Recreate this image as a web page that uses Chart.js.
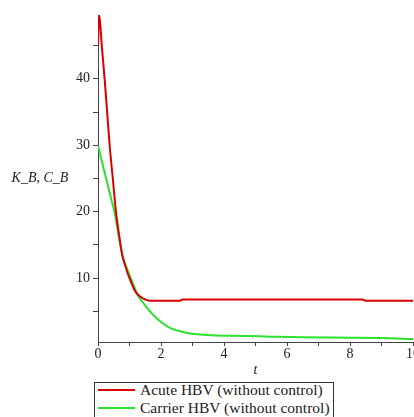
<!DOCTYPE html>
<html>
<head>
<meta charset="utf-8">
<script src="https://cdn.jsdelivr.net/npm/chart.js@4"></script>
<style>
  html, body { margin: 0; padding: 0; background: #fff; overflow: hidden; }
  #wrap { position: relative; width: 414px; height: 417px; overflow: hidden; }
  #myChart { position: absolute; left: 0; top: 0; }
  #legend {
    position: absolute; left: 94px; top: 382px; width: 238px; height: 50px;
    border: 1px solid #333; font: 15.5px "Liberation Serif", serif; color: #222;
  }
  .rows { position: relative; top: -2px; }
  .item { display: flex; align-items: center; height: 18px; white-space: nowrap; }
  .swatch { width: 37px; height: 2px; margin-left: 3px; margin-right: 5px; }
</style>
</head>
<body>
<div id="wrap">
  <canvas id="myChart" width="440" height="377"></canvas>
  <div id="legend"><div class="rows"></div></div>
</div>
<script>
// valores
const tAcute = [0, 0.04, 0.12, 0.21, 0.29, 0.37, 0.47, 0.57, 0.67, 0.77, 0.87, 0.96, 1.07, 1.17, 1.27, 1.38, 1.5, 1.65, 2.6, 2.68, 8.4, 8.5, 10];
const acuteHBV = [45, 49.6, 45, 40, 35, 30, 25, 20, 16.5, 13.5, 11.8, 10.5, 9.2, 8.1, 7.5, 7.1, 6.8, 6.6, 6.6, 6.8, 6.8, 6.6, 6.6];

const tCarrier = [0, 0.1, 0.27, 0.4, 0.53, 0.65, 0.77, 0.9, 1.05, 1.17, 1.27, 1.48, 1.75, 2.0, 2.25, 2.54, 2.8, 3.07, 3.6, 4.66, 5.5, 6.5, 8, 9, 10];
const carrierHBV = [30, 28, 24.8, 22.3, 19.8, 16.5, 13.5, 11.7, 9.9, 8.5, 7.4, 6.0, 4.5, 3.4, 2.6, 2.1, 1.8, 1.6, 1.4, 1.3, 1.2, 1.1, 1.05, 1.0, 0.85];

const xTicks = [0, 1, 2, 3, 4, 5, 6, 7, 8, 9, 10];
const xTickLabels = ["0", "", "2", "", "4", "", "6", "", "8", "", "10"];
const yTicks = [5, 10, 15, 20, 25, 30, 35, 40, 45];
const yTickLabels = ["", "10", "", "20", "", "30", "", "40", ""];

const series = [
  { label: "Acute HBV (without control)", t: tAcute, v: acuteHBV, color: "rgb(215, 0, 0)" },
  { label: "Carrier HBV (without control)", t: tCarrier, v: carrierHBV, color: "rgb(45, 225, 45)" },
];

const axisColor = "#444";
const tickFont = { family: "'Liberation Serif', serif", size: 14 };

const axisTitles = {
  id: "axisTitles",
  afterDraw(chart) {
    const { ctx, chartArea } = chart;
    ctx.save();
    ctx.font = "italic 14px 'Liberation Serif', serif";
    ctx.fillStyle = "#222";
    ctx.textAlign = "center";
    ctx.textBaseline = "middle";
    ctx.fillText("K_B, C_B", 40, (chartArea.top + chartArea.bottom) / 2);
    ctx.fillText("t", (chartArea.left + chartArea.right) / 2, chartArea.bottom + 28);
    ctx.restore();
  },
};

const datasets = series.map(({ label, t, v, color }) => ({
  label,
  data: t.map((x, i) => ({ x, y: v[i] })),
  borderColor: color,
  borderWidth: 2,
  pointRadius: 0,
  cubicInterpolationMode: "monotone",
  fill: false,
}));

new Chart(document.getElementById("myChart"), {
  type: "line",
  data: { datasets },
  options: {
    responsive: false,
    animation: false,
    layout: { padding: { left: 0, right: 27, top: 15, bottom: 0 } },
    plugins: { legend: { display: false }, tooltip: { enabled: false } },
    scales: {
      x: {
        type: "linear",
        min: 0,
        max: 10,
        afterBuildTicks: (s) => { s.ticks = xTicks.map((value) => ({ value })); },
        afterFit: (s) => { s.height = 35; },
        ticks: {
          autoSkip: false,
          maxRotation: 0,
          padding: 0,
          font: tickFont,
          color: "#222",
          callback: (value, index) => xTickLabels[index],
        },
        grid: { drawOnChartArea: false, color: axisColor, tickLength: 4 },
        border: { color: axisColor, width: 1 },
      },
      y: {
        min: 0.4,
        max: 49.6,
        afterBuildTicks: (s) => { s.ticks = yTicks.map((value) => ({ value })); },
        afterFit: (s) => { s.width = 98; },
        ticks: {
          autoSkip: false,
          padding: 3,
          font: tickFont,
          color: "#222",
          callback: (value, index) => yTickLabels[index],
        },
        grid: { drawOnChartArea: false, color: axisColor, tickLength: 5 },
        border: { color: axisColor, width: 1 },
      },
    },
  },
  plugins: [axisTitles],
});

const rows = document.querySelector("#legend .rows");
series.forEach(({ label, color }) => {
  const item = document.createElement("div");
  item.className = "item";
  item.innerHTML = `<span class="swatch" style="background:${color}"></span><span>${label}</span>`;
  rows.appendChild(item);
});
</script>
</body>
</html>
